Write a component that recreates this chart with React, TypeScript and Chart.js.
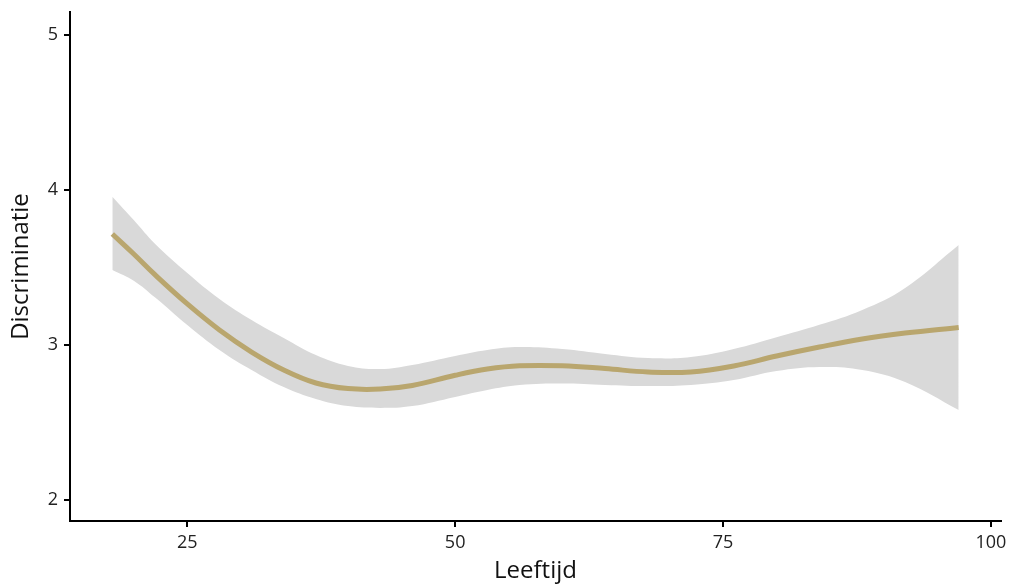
import React, { useEffect, useRef } from "react";
import { Chart, registerables } from "chart.js";

Chart.register(...registerables);

const ages = [18, 20, 22, 25, 28, 31, 34, 37, 40, 43, 46, 50, 53, 56, 60, 64, 68, 72, 76, 80, 84, 88, 92, 97];
const fitted = [3.716, 3.587, 3.452, 3.265, 3.097, 2.955, 2.839, 2.755, 2.719, 2.716, 2.739, 2.805, 2.845, 2.866, 2.866, 2.848, 2.826, 2.826, 2.865, 2.929, 2.987, 3.039, 3.077, 3.113];
const upper = [3.957, 3.806, 3.652, 3.465, 3.297, 3.161, 3.045, 2.935, 2.865, 2.845, 2.871, 2.929, 2.968, 2.987, 2.974, 2.942, 2.916, 2.923, 2.974, 3.05, 3.13, 3.226, 3.368, 3.645];
const lower = [3.484, 3.415, 3.306, 3.129, 2.968, 2.839, 2.729, 2.652, 2.606, 2.594, 2.606, 2.665, 2.71, 2.742, 2.752, 2.742, 2.735, 2.742, 2.774, 2.832, 2.858, 2.839, 2.761, 2.581];
const xTicks = [25, 50, 75, 100];
const yTicks = [2, 3, 4, 5];
const xTitle = "Leeftijd";
const yTitle = "Discriminatie";

const pts = (ys: number[]) => ages.map((a, i) => ({ x: a, y: ys[i] }));

export default function App() {
  const ref = useRef<HTMLCanvasElement>(null);
  useEffect(() => {
    if (!ref.current) return;
    const font = "Open Sans";
    const chart = new Chart(ref.current, {
      type: "line",
      data: {
        datasets: [
          {
            data: pts(fitted),
            borderColor: "#b9a66e",
            borderWidth: 5,
            pointRadius: 0,
            tension: 0.4,
            fill: false,
            order: 0,
          },
          {
            data: pts(upper),
            borderWidth: 0,
            borderColor: "rgba(0,0,0,0)",
            backgroundColor: "#d9d9d9",
            pointRadius: 0,
            tension: 0.4,
            fill: "+1",
            order: 1,
          },
          {
            data: pts(lower),
            borderWidth: 0,
            borderColor: "rgba(0,0,0,0)",
            pointRadius: 0,
            tension: 0.4,
            fill: false,
            order: 2,
          },
        ],
      },
      options: {
        animation: false,
        responsive: false,
        maintainAspectRatio: false,
        layout: { padding: { top: 12, right: 12, left: 0, bottom: 0 } },
        plugins: { legend: { display: false }, tooltip: { enabled: false } },
        scales: {
          x: {
            type: "linear",
            min: 14.05,
            max: 100.95,
            afterBuildTicks: (axis: any) => {
              axis.ticks = xTicks.map((v) => ({ value: v }));
            },
            afterFit: (axis: any) => {
              axis.height = 65;
            },
            grid: { display: true, drawOnChartArea: false, drawTicks: true, tickLength: 6, color: "#000", lineWidth: 2 },
            border: { display: true, color: "#000", width: 2 },
            ticks: { color: "#222", font: { family: font, size: 18 }, padding: 5, maxRotation: 0 },
            title: { display: true, text: xTitle, color: "#111", font: { family: font, size: 24 }, padding: { top: 0, bottom: 0 } },
          },
          y: {
            type: "linear",
            min: 1.865,
            max: 5.148,
            afterBuildTicks: (axis: any) => {
              axis.ticks = yTicks.map((v) => ({ value: v }));
            },
            afterFit: (axis: any) => {
              axis.width = 70;
              axis.paddingTop = 0;
              axis.paddingBottom = 0;
            },
            grid: { display: true, drawOnChartArea: false, drawTicks: true, tickLength: 6, color: "#000", lineWidth: 2 },
            border: { display: true, color: "#000", width: 2 },
            ticks: { color: "#222", font: { family: font, size: 18 }, padding: 6 },
            title: { display: true, text: yTitle, color: "#111", font: { family: font, size: 24 }, padding: { top: 7, bottom: 0 } },
          },
        },
      },
    } as any);
    return () => chart.destroy();
  }, []);
  return (
    <div style={{ position: "fixed", left: 0, top: 0, width: 1013, height: 586, background: "#fff" }}>
      <canvas ref={ref} width={1013} height={586} style={{ width: 1013, height: 586, display: "block" }} />
    </div>
  );
}
